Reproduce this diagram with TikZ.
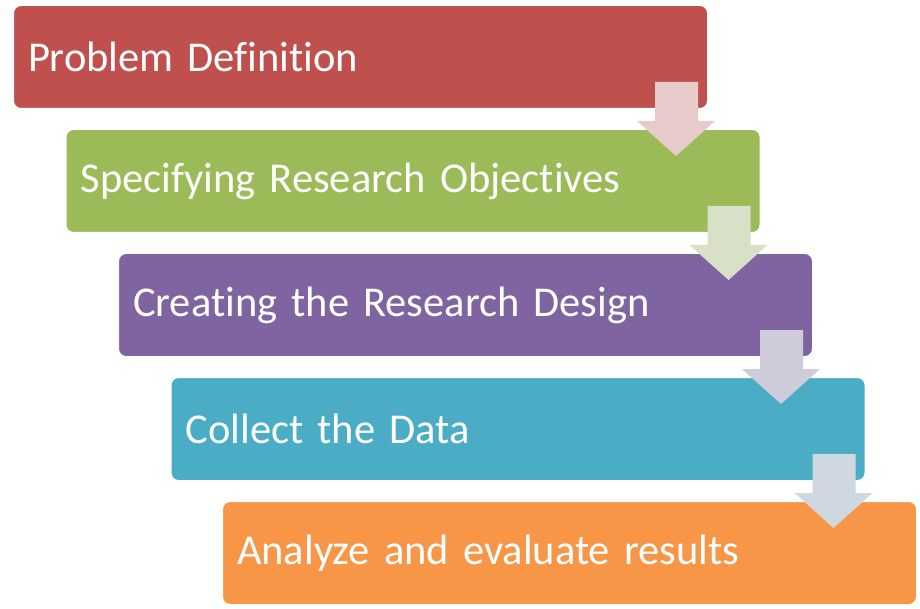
\documentclass[tikz,border=0pt]{standalone}
\usepackage{fontspec}
\setmainfont{Carlito}[Ligatures={NoCommon}]
\usepackage{tikz}
\usetikzlibrary{calc}

\definecolor{stepred}{HTML}{C0504D}
\definecolor{stepgreen}{HTML}{9BBB59}
\definecolor{steppurple}{HTML}{8064A2}
\definecolor{stepteal}{HTML}{4BACC6}
\definecolor{steporange}{HTML}{F79646}
\definecolor{arrowred}{HTML}{E7CACA}
\definecolor{arrowgreen}{HTML}{D8E1C8}
\definecolor{arrowpurple}{HTML}{CECBDA}
\definecolor{arrowteal}{HTML}{CFD7E0}

\begin{document}
\begin{tikzpicture}[x=1pt, y=-1pt]
                \tikzstyle{stepbox}=[draw=white, line width=2pt, rounded corners=8pt, anchor=north west,
                    minimum width=695pt, minimum height=104pt, text width=665pt, align=left,
                    inner xsep=15pt, text=white, font=\fontsize{42.5}{48}\selectfont]
                \tikzstyle{downarrow}=[draw=none]

                    \useasboundingbox[fill=white] (0,0) rectangle (920,609);

                    % Caixas
                    \node[stepbox, fill=stepred] (def) at (12,4) {Problem Definition};
                    \node[stepbox, fill=stepgreen] (obj) at (64.5,128) {Specifying Research Objectives};
                    \node[stepbox, fill=steppurple] (des) at (117,252) {Creating the Research Design};
                    \node[stepbox, fill=stepteal] (col) at (169.5,376) {Collect the Data};
                    \node[stepbox, fill=steporange] (ana) at (221,500) {Analyze and evaluate results};

                    % Setas
                    \fill[downarrow, arrowred] ($(def.south east)+(-54,-28)$) -- ++(43,0) -- ++(0,39)
                        -- ++(17,0) -- ++(-39,35) -- ++(-39,-35) -- ++(18,0) -- cycle;
                    \fill[downarrow, arrowgreen] ($(obj.south east)+(-54,-28)$) -- ++(43,0) -- ++(0,39)
                        -- ++(17,0) -- ++(-39,35) -- ++(-39,-35) -- ++(18,0) -- cycle;
                    \fill[downarrow, arrowpurple] ($(des.south east)+(-54,-28)$) -- ++(43,0) -- ++(0,39)
                        -- ++(17,0) -- ++(-39,35) -- ++(-39,-35) -- ++(18,0) -- cycle;
                    \fill[downarrow, arrowteal] ($(col.south east)+(-54,-28)$) -- ++(43,0) -- ++(0,39)
                        -- ++(17,0) -- ++(-39,35) -- ++(-39,-35) -- ++(18,0) -- cycle;

            \end{tikzpicture}
\end{document}
